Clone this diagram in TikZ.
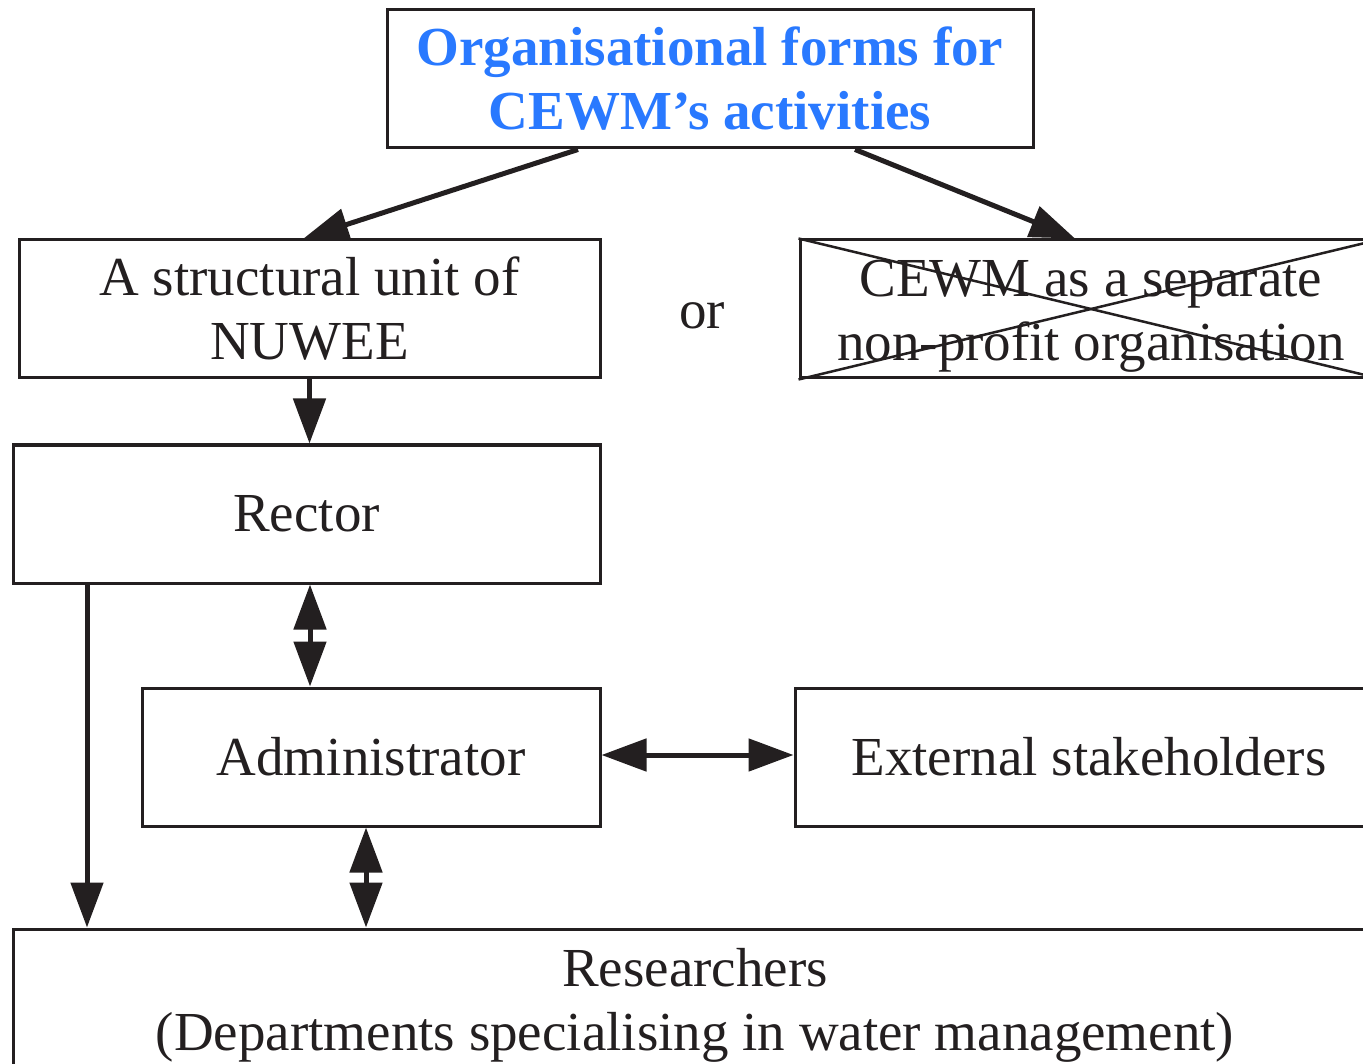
\documentclass[tikz,border=0pt]{standalone}
\usepackage{fontspec}
\setmainfont{Liberation Serif}
\usetikzlibrary{arrows.meta}
\definecolor{ink}{HTML}{231F20}
\definecolor{titleblue}{HTML}{2979FF}
% balances the descenders of a second line so the text sits centred
\newcommand{\toppad}{\rule{0pt}{50pt}}
\begin{document}
\begin{tikzpicture}[x=1pt,y=-1pt,
  every node/.style={font=\fontsize{55}{64}\selectfont, text=ink, inner sep=0pt},
  box/.style={draw=ink, line width=3pt, rectangle, align=center, minimum height=138pt},
  link/.style={draw=ink, line width=5pt, -{Triangle[length=45pt,width=32pt]}},
  biglink/.style={draw=ink, line width=5pt, {Triangle[length=45pt,width=32pt]}-{Triangle[length=45pt,width=32pt]}},
  cross/.style={draw=ink, line width=2.5pt}]
\useasboundingbox (0,0) rectangle (1363,1064);
\clip (0,0) rectangle (1363,1064);
\fill[white] (0,0) rectangle (1363,1064);

% boxes
\node[box, minimum width=646pt, font=\fontsize{55}{64}\selectfont\bfseries, text=titleblue]
  (title) at (710,79) {Organisational forms for\\CEWM’s activities};
\node[box, minimum width=581pt] (unit) at (309.5,309) {A structural unit of\\NUWEE};
\node (or) at (702,316) {or};
\node[box, minimum width=582pt] (sep) at (1091,309) {\toppad CEWM as a separate\\non-profit organisation};
\node[box, minimum width=587pt] (rector) at (306.5,514) {Rector};
\node[box, minimum width=458pt] (admin) at (371,757) {Administrator};
\node[box, minimum width=588pt] (ext) at (1089,757) {External stakeholders};
\node[box, minimum width=1364pt, minimum height=140pt] (res) at (695,999)
  {\toppad Researchers\\(Departments specialising in water management)};

% the rejected option is crossed out
\draw[cross] (sep.north west) -- (sep.south east);
\draw[cross] (sep.south west) -- (sep.north east);

% connectors
\draw[link] ([xshift=-132pt]title.south) -- ([xshift=-6pt]unit.north);
\draw[link] ([xshift=145pt]title.south) -- ([xshift=-16pt]sep.north);
\draw[link] (unit.south) -- (unit.south |- rector.north);
\draw[biglink] ([xshift=3.5pt]rector.south) -- ([xshift=3.5pt]rector.south |- admin.north);
\draw[link] ([xshift=-219.5pt]rector.south) -- ([xshift=-219.5pt]rector.south |- res.north);
\draw[biglink] ([xshift=-5pt]admin.south) -- ([xshift=-5pt]admin.south |- res.north);
\draw[biglink] ([yshift=2pt]admin.east) -- ([yshift=2pt]ext.west);
\end{tikzpicture}
\end{document}
